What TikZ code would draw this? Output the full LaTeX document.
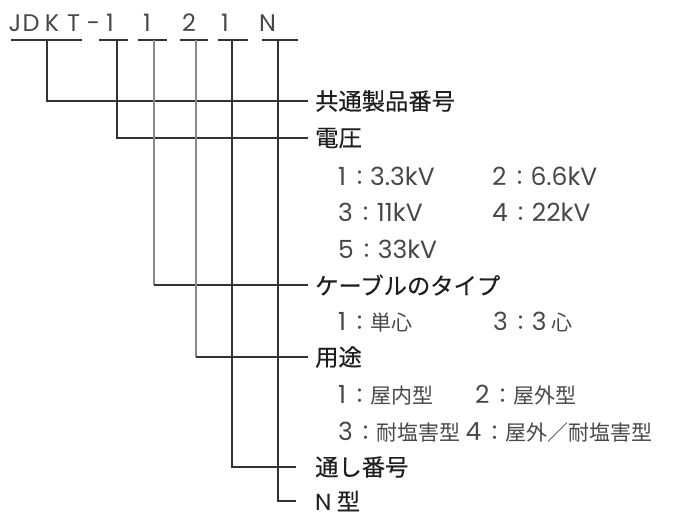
\documentclass[tikz,border=0pt]{standalone}
\usepackage{fontspec}
\setmainfont{Noto Sans CJK JP}
\newfontfamily\lblfont{Noto Sans CJK JP}[FakeBold=0.4]
\newfontfamily\lat{Poppins}
\newcommand{\lt}[1]{{\lat\fontsize{25}{26}\selectfont #1}}
\newcommand{\cl}{\kern3pt：}
\definecolor{dk}{HTML}{333333}
\definecolor{gr}{HTML}{8A8A8A}
\definecolor{tx}{HTML}{1E1E1E}
\definecolor{ltc}{HTML}{484848}
\begin{document}
\begin{tikzpicture}[x=1pt,y=-1pt,
  lnk/.style={draw=dk,line width=1.1pt},
  glnk/.style={draw=gr,line width=1.3pt},
  hdr/.style={anchor=base,inner sep=0pt,text=ltc,font=\lat\fontsize{24}{24}\selectfont},
  lbl/.style={anchor=west,inner ysep=0pt,text=tx,font=\lblfont\fontsize{23.3}{24}\selectfont},
  itm/.style={anchor=west,inner sep=0pt,text=ltc,font=\fontsize{21}{21}\selectfont}]
\useasboundingbox (0,0) rectangle (682,513);
% header characters
\node[hdr] (hJ) at (15,32) {J};
\node[hdr] (hD) at (31,32) {D};
\node[hdr] (hK) at (52,32) {K};
\node[hdr] (hT) at (73.5,32) {T};
\node[hdr] (hdash) at (93.5,32) {-};
\node[hdr] (h1) at (110,32) {1};
\node[hdr] (h2) at (147,32) {1};
\node[hdr] (h3) at (189,32) {2};
\node[hdr] (h4) at (225,32) {1};
\node[hdr] (h5) at (267.5,32) {N};
% underlines
\draw[lnk] (11,40) -- (82,40);
\draw[lnk] (99,40) -- (128,40);
\draw[lnk] (138,40) -- (167,40);
\draw[lnk] (180,40) -- (208,40);
\draw[lnk] (218,40) -- (248,40);
\draw[lnk] (262,40) -- (298,40);
\coordinate (t0) at (47,40);
\coordinate (t1) at (117,40);
\coordinate (t2) at (154,40);
\coordinate (t3) at (196,40);
\coordinate (t4) at (232,40);
\coordinate (t5) at (278,40);
% labels
\node[lbl,inner xsep=7pt] (L0) at (308,101) {共通製品番号};
\node[lbl,inner xsep=7pt] (L1) at (308,138) {電圧};
\node[itm] (v1) at (338,176) {\lt{1}\cl\lt{3.3kV}};
\node[itm] (v2) at (492,176) {\lt{2}\cl\lt{6.6kV}};
\node[itm] (v3) at (338,212) {\lt{3}\cl\lt{11kV}};
\node[itm] (v4) at (492,212) {\lt{4}\cl\lt{22kV}};
\node[itm] (v5) at (338,249) {\lt{5}\cl\lt{33kV}};
\node[lbl,inner xsep=7pt] (L2) at (308,285) {ケーブルのタイプ};
\node[itm] (c1) at (338,322) {\lt{1}\cl 単心};
\node[itm] (c3) at (493,322) {\lt{3}\cl\lt{3} 心};
\node[lbl,inner xsep=7pt] (L3) at (308,357) {用途};
\node[itm] (u1) at (338,395) {\lt{1}\cl 屋内型};
\node[itm] (u2) at (475,395) {\lt{2}\cl 屋外型};
\node[itm] (u3) at (338,432) {\lt{3}\cl 耐塩害型 \lt{4}\cl 屋外／耐塩害型};
\node[lbl,inner xsep=19pt] (L4) at (296,467) {通し番号};
\node[lbl,inner xsep=19pt] (L5) at (296,501) {{\lat N} 型};
% connectors
\draw[lnk] (t0) |- (L0.west);
\draw[lnk] (t1) |- (L1.west);
\draw[glnk] (t2) -- (t2 |- L2.west);
\draw[lnk] (t2 |- L2.west) -- (L2.west);
\draw[glnk] (t3) -- (t3 |- L3.west);
\draw[lnk] (t3 |- L3.west) -- (L3.west);
\draw[lnk] (t4) |- (L4.west);
\draw[lnk] (t5) |- (L5.west);
\end{tikzpicture}
\end{document}
